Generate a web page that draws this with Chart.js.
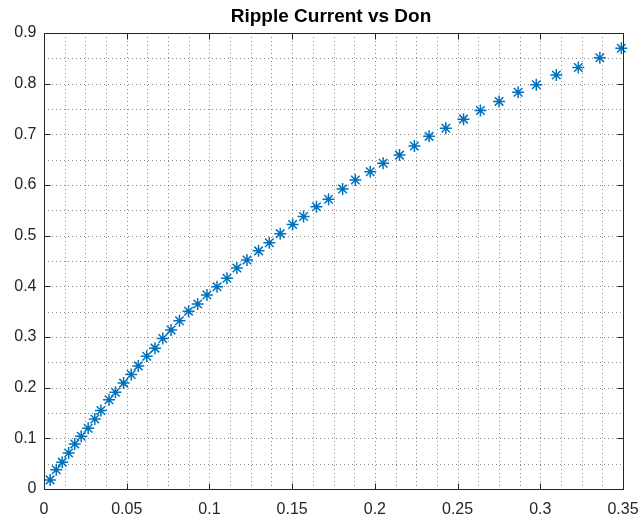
<!DOCTYPE html>
<html>
<head>
<meta charset="utf-8">
<script src="https://cdn.jsdelivr.net/npm/chart.js@4/dist/chart.umd.min.js"></script>
<style>
  html, body { margin: 0; padding: 0; background: #fff; }
</style>
</head>
<body>
<canvas id="chart" width="640" height="521"></canvas>
<script>
// values
const donValues = [
  0.0037, 0.0074, 0.0110, 0.0149, 0.0186, 0.0225, 0.0267, 0.0307, 0.0344, 0.0393,
  0.0432, 0.0481, 0.0527, 0.0570, 0.0621, 0.0671, 0.0718, 0.0768, 0.0819, 0.0874,
  0.0929, 0.0985, 0.1046, 0.1106, 0.1166, 0.1227, 0.1297, 0.1362, 0.1428, 0.1503,
  0.1569, 0.1647, 0.1720, 0.1805, 0.1882, 0.1972, 0.2050, 0.2149, 0.2239, 0.2328,
  0.2429, 0.2536, 0.2638, 0.2751, 0.2866, 0.2976, 0.3097, 0.3230, 0.3360, 0.3490
];
const rippleValues = [
  0.018, 0.038, 0.053, 0.071, 0.089, 0.104, 0.120, 0.138, 0.155, 0.176,
  0.191, 0.209, 0.226, 0.243, 0.262, 0.278, 0.297, 0.314, 0.332, 0.351,
  0.365, 0.383, 0.399, 0.416, 0.436, 0.452, 0.470, 0.486, 0.504, 0.522,
  0.538, 0.557, 0.572, 0.592, 0.610, 0.626, 0.643, 0.659, 0.677, 0.696,
  0.712, 0.730, 0.747, 0.765, 0.783, 0.798, 0.817, 0.832, 0.851, 0.870
];
const xTickValues = [0, 0.05, 0.1, 0.15, 0.2, 0.25, 0.3, 0.35];
const yTickValues = [0, 0.1, 0.2, 0.3, 0.4, 0.5, 0.6, 0.7, 0.8, 0.9];
const titleText = 'Ripple Current vs Don';

const axisColor = '#262626';
const fontFamily = '"Liberation Sans", Arial, Helvetica, sans-serif';

const fmt = v => parseFloat(Number(v).toFixed(4)).toString();

// minor grid: 4 parts per major step on x, 2 on y
function withMinor(ticks, parts) {
  const out = [];
  for (let i = 0; i < ticks.length - 1; i++) {
    const step = (ticks[i + 1] - ticks[i]) / parts;
    for (let k = 1; k < parts; k++) out.push(ticks[i] + step * k);
  }
  return out;
}

const matlabAxes = {
  id: 'matlabAxes',
  beforeDatasetsDraw(chart) {
    const { ctx, chartArea: a, scales: { x, y } } = chart;
    ctx.save();
    ctx.lineWidth = 1;
    ctx.setLineDash([1, 3]);
    const vLines = xTickValues.concat(withMinor(xTickValues, 4));
    const hLines = yTickValues.concat(withMinor(yTickValues, 2));
    ctx.strokeStyle = 'rgba(38,38,38,0.55)';
    vLines.forEach(v => {
      const px = Math.round(x.getPixelForValue(v)) + 0.5;
      ctx.beginPath(); ctx.moveTo(px, a.top); ctx.lineTo(px, a.bottom); ctx.stroke();
    });
    hLines.forEach(v => {
      const py = Math.round(y.getPixelForValue(v)) + 0.5;
      ctx.beginPath(); ctx.moveTo(a.left, py); ctx.lineTo(a.right, py); ctx.stroke();
    });
    ctx.restore();
  },
  afterDatasetsDraw(chart) {
    const { ctx, chartArea: a, scales: { x, y } } = chart;
    const L = Math.round(a.left) + 0.5, R = Math.round(a.right) + 0.5;
    const T = Math.round(a.top) + 0.5, B = Math.round(a.bottom) + 0.5;
    const tl = 6;
    ctx.save();
    ctx.strokeStyle = axisColor;
    ctx.lineWidth = 1;
    ctx.strokeRect(L, T, R - L, B - T);
    ctx.beginPath();
    xTickValues.forEach(v => {
      const px = Math.round(x.getPixelForValue(v)) + 0.5;
      ctx.moveTo(px, B); ctx.lineTo(px, B - tl);
      ctx.moveTo(px, T); ctx.lineTo(px, T + tl);
    });
    yTickValues.forEach(v => {
      const py = Math.round(y.getPixelForValue(v)) + 0.5;
      ctx.moveTo(L, py); ctx.lineTo(L + tl, py);
      ctx.moveTo(R, py); ctx.lineTo(R - tl, py);
    });
    ctx.stroke();

    // tick labels
    ctx.fillStyle = axisColor;
    ctx.font = '16px ' + fontFamily;
    ctx.textBaseline = 'middle';
    ctx.textAlign = 'center';
    xTickValues.forEach(v => ctx.fillText(fmt(v), x.getPixelForValue(v), B + 20));
    ctx.textAlign = 'right';
    yTickValues.forEach(v => ctx.fillText(fmt(v), L - 8, y.getPixelForValue(v)));

    // title
    ctx.fillStyle = '#000';
    ctx.font = 'bold 19px ' + fontFamily;
    ctx.textAlign = 'center';
    ctx.fillText(titleText, 331, 17);
    ctx.restore();
  }
};

new Chart(document.getElementById('chart'), {
  type: 'scatter',
  data: {
    datasets: [{
      data: donValues.map((d, i) => ({ x: d, y: rippleValues[i] })),
      showLine: false,
      pointStyle: 'star',
      pointRadius: 6,
      pointHoverRadius: 6,
      borderColor: '#0072BD',
      backgroundColor: '#0072BD',
      borderWidth: 1.5,
      clip: false
    }]
  },
  options: {
    responsive: false,
    animation: false,
    events: [],
    layout: { padding: { top: 33, right: 17, left: 0, bottom: 0 } },
    plugins: { legend: { display: false }, tooltip: { enabled: false }, title: { display: false } },
    scales: {
      x: {
        type: 'linear',
        min: 0,
        max: 0.35,
        afterBuildTicks: s => { s.ticks = xTickValues.map(v => ({ value: v })); },
        afterFit: s => { s.height = 32; },
        grid: { display: false, drawTicks: false },
        border: { display: false },
        ticks: { display: false }
      },
      y: {
        type: 'linear',
        min: 0,
        max: 0.9,
        afterBuildTicks: s => { s.ticks = yTickValues.map(v => ({ value: v })); },
        afterFit: s => { s.width = 44; },
        grid: { display: false, drawTicks: false },
        border: { display: false },
        ticks: { display: false }
      }
    }
  },
  plugins: [matlabAxes]
});
</script>
</body>
</html>
